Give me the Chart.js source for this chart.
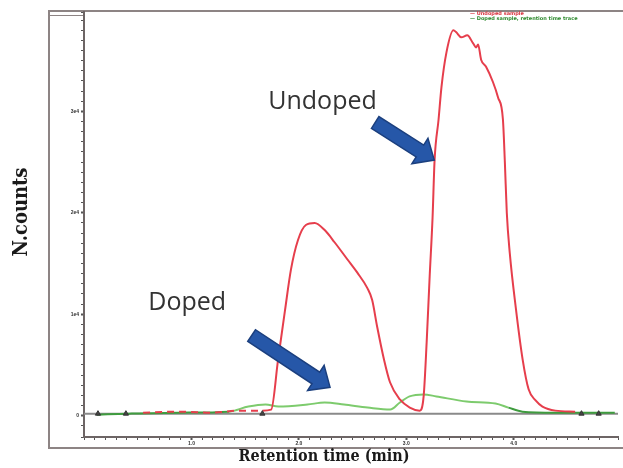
<!DOCTYPE html>
<html><head><meta charset="utf-8">
<script src="https://cdn.jsdelivr.net/npm/chart.js@4.4.1/dist/chart.umd.min.js"></script>
<style>html,body{margin:0;padding:0;background:#fff;}canvas{display:block;}</style>
</head><body>
<canvas id="c" width="623" height="468" style="width:623px;height:468px"></canvas>
<script>
// ---- data (retention time in min, normalised counts) ----
const undopedTime = [0.55, 0.90, 1.20, 1.45, 1.66, 1.742, 1.806, 1.871, 1.926, 1.991, 2.065, 2.147, 2.240, 2.332, 2.452, 2.544, 2.636, 2.682, 2.728, 2.793, 2.848, 2.940, 3.032, 3.124, 3.161, 3.189, 3.217, 3.244, 3.263, 3.300, 3.327, 3.373, 3.438, 3.465, 3.512, 3.567, 3.622, 3.650, 3.668, 3.696, 3.742, 3.806, 3.853, 3.899, 3.917, 3.935, 3.963, 4.018, 4.083, 4.138, 4.203, 4.267, 4.387, 4.571];
const undopedCounts = [0.03, 0.04, 0.03, 0.05, 0.05, 0.06, 0.55, 1.04, 1.44, 1.73, 1.88, 1.90, 1.83, 1.71, 1.54, 1.41, 1.26, 1.14, 0.88, 0.55, 0.33, 0.16, 0.08, 0.05, 0.19, 0.72, 1.37, 1.95, 2.52, 2.92, 3.24, 3.58, 3.80, 3.78, 3.73, 3.75, 3.67, 3.63, 3.66, 3.51, 3.44, 3.29, 3.14, 2.92, 2.50, 2.00, 1.60, 1.07, 0.55, 0.26, 0.15, 0.09, 0.05, 0.04];
const dopedTime = [0.12, 0.42, 0.88, 1.35, 1.53, 1.69, 1.81, 2.08, 2.24, 2.42, 2.64, 2.85, 2.94, 3.03, 3.16, 3.28, 3.56, 3.83, 3.95, 4.08, 4.39, 4.94];
const dopedCounts = [0.01, 0.02, 0.03, 0.04, 0.09, 0.11, 0.09, 0.11, 0.13, 0.11, 0.08, 0.06, 0.13, 0.19, 0.21, 0.19, 0.14, 0.12, 0.08, 0.04, 0.03, 0.03];
const baselineTime = [0, 4.97];
const baselineCounts = [0.02, 0.02];
const markerTime = [0.13, 0.39, 1.66, 4.63, 4.79];
const markerCounts = [0.02, 0.02, 0.02, 0.02, 0.02];
const xTickValues = [1, 2, 3, 4];
const xTickLabels = ['1.0', '2.0', '3.0', '4.0'];
const yTickValues = [0, 1, 2, 3];
const yTickLabels = ['0', '1e4', '2e4', '3e4'];
const annotationLabels = ['Undoped', 'Doped'];
const annotationLabelPos = [[2.22, 3.09], [0.96, 1.11]];
const arrowTails = [[2.71, 2.89], [1.56, 0.79]];
const arrowTips = [[3.26, 2.52], [2.29, 0.28]];
const legendNames = ['Undoped sample', 'Doped sample'];

const toXY = (xs, ys) => xs.map((x, i) => ({x, y: ys[i]}));

const framePlugin = {
  id: 'frame',
  beforeDraw(chart) {
    const c = chart.ctx;
    c.save();
    c.fillStyle = '#fff';
    c.fillRect(0, 0, chart.width, chart.height);
    c.strokeStyle = '#8d8484';
    c.lineWidth = 2;
    c.strokeRect(49, 11, 640, 437);
    c.lineWidth = 1;
    c.strokeRect(49.5, 11.5, 34, 4);
    c.restore();
  },
  afterDraw(chart) {
    const c = chart.ctx;
    c.save();
    // axis titles
    c.fillStyle = '#1a1a1a';
    c.textAlign = 'center';
    c.textBaseline = 'middle';
    c.font = 'bold 16px "DejaVu Serif Condensed", "DejaVu Serif", serif';
    c.fillText('Retention time (min)', 324, 457);
    c.font = 'bold 20px "DejaVu Serif Condensed", "DejaVu Serif", serif';
    c.translate(22, 212);
    c.rotate(-Math.PI / 2);
    c.fillText('N.counts', 0, 0);
    c.restore();
    // tiny legend at top right
    c.save();
    c.font = 'bold 5px "DejaVu Sans", sans-serif';
    c.textAlign = 'left';
    c.textBaseline = 'middle';
    c.fillStyle = '#d8343f';
    c.fillText('\u2014 ' + legendNames[0], 470, 14);
    c.fillStyle = '#2f8a2f';
    c.fillText('\u2014 ' + legendNames[1] + ', retention time trace', 470, 19);
    c.restore();
  }
};

const annotPlugin = {
  id: 'annot',
  afterDatasetsDraw(chart) {
    const c = chart.ctx, xs = chart.scales.x, ys = chart.scales.y;
    c.save();
    for (let i = 0; i < arrowTails.length; i++) {
      const tx = xs.getPixelForValue(arrowTails[i][0]), ty = ys.getPixelForValue(arrowTails[i][1]);
      const px = xs.getPixelForValue(arrowTips[i][0]), py = ys.getPixelForValue(arrowTips[i][1]);
      const L = Math.hypot(px - tx, py - ty), ux = (px - tx) / L, uy = (py - ty) / L;
      const nx = -uy, ny = ux, w = 7, hw = 15, hl = 17;
      const bx = px - ux * hl, by = py - uy * hl;
      c.beginPath();
      c.moveTo(tx + nx * w, ty + ny * w);
      c.lineTo(bx + nx * w, by + ny * w);
      c.lineTo(bx + nx * hw, by + ny * hw);
      c.lineTo(px, py);
      c.lineTo(bx - nx * hw, by - ny * hw);
      c.lineTo(bx - nx * w, by - ny * w);
      c.lineTo(tx - nx * w, ty - ny * w);
      c.closePath();
      c.fillStyle = '#2657a8';
      c.fill();
      c.strokeStyle = '#1b3f7e';
      c.lineWidth = 1.5;
      c.stroke();
    }
    c.fillStyle = '#333';
    c.font = '25px "Open Sans", sans-serif';
    c.textAlign = 'center';
    c.textBaseline = 'middle';
    annotationLabels.forEach((t, i) => {
      c.fillText(t, xs.getPixelForValue(annotationLabelPos[i][0]), ys.getPixelForValue(annotationLabelPos[i][1]));
    });
    c.restore();
  }
};

const isMajor = (v, arr) => arr.findIndex(a => Math.abs(a - v) < 1e-6);

new Chart(document.getElementById('c'), {
  type: 'line',
  data: {
    datasets: [
      { label: 'markers', data: toXY(markerTime, markerCounts), showLine: false, pointStyle: 'triangle', pointRadius: 3, pointBackgroundColor: '#444', pointBorderColor: '#333', pointBorderWidth: 1 },
      { label: 'Undoped', data: toXY(undopedTime, undopedCounts), borderColor: '#e63e4c', borderWidth: 2, pointRadius: 0, cubicInterpolationMode: 'monotone',
        segment: { borderDash: ctx => ctx.p1.parsed.x <= 1.67 ? [7, 5] : undefined } },
      { label: 'Doped', data: toXY(dopedTime, dopedCounts), borderColor: '#7dcb6d', borderWidth: 2, pointRadius: 0, cubicInterpolationMode: 'monotone',
        segment: { borderColor: ctx => (ctx.p0.parsed.x >= 3.95 || ctx.p1.parsed.x <= 1.36) ? '#3f9c3f' : undefined } },
      { label: 'baseline', data: toXY(baselineTime, baselineCounts), borderColor: '#8a8a8a', borderWidth: 2, pointRadius: 0 }
    ]
  },
  options: {
    responsive: false,
    animation: false,
    devicePixelRatio: 1,
    layout: { padding: { top: 12, left: 0, right: 0, bottom: 0 } },
    plugins: { legend: { display: false }, tooltip: { enabled: false } },
    scales: {
      x: {
        type: 'linear', min: 0, max: 4.97,
        afterFit: s => { s.height = 31; },
        border: { display: true, color: '#6d6565', width: 2 },
        grid: { drawOnChartArea: false, drawTicks: true, tickLength: 3, color: '#555', tickWidth: ctx => isMajor(ctx.tick.value, xTickValues) >= 0 ? 2 : 1 },
        ticks: { stepSize: 0.1, autoSkip: false, maxRotation: 0, padding: 1, color: '#333', font: { size: 5, weight: 'bold' },
          callback: v => { const k = isMajor(v, xTickValues); return k >= 0 ? xTickLabels[k] : ''; } }
      },
      y: {
        type: 'linear', min: -0.21, max: 3.98,
        afterFit: s => { s.width = 84; },
        border: { display: true, color: '#6d6565', width: 2 },
        grid: { drawOnChartArea: false, drawTicks: true, tickLength: 3, color: '#555', tickWidth: ctx => isMajor(ctx.tick.value, yTickValues) >= 0 ? 2 : 1 },
        ticks: { stepSize: 0.1, autoSkip: false, padding: 2, color: '#333', font: { size: 5, weight: 'bold' },
          callback: v => { const k = isMajor(v, yTickValues); return k >= 0 ? yTickLabels[k] : ''; } }
      }
    }
  },
  plugins: [framePlugin, annotPlugin]
});
</script>
</body></html>
